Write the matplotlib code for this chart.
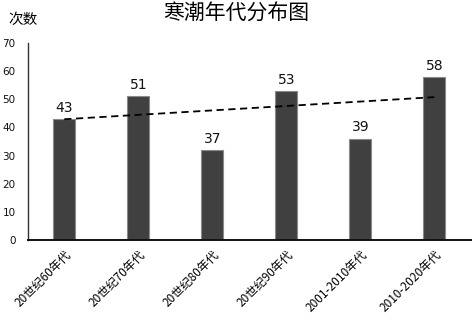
import numpy as np
import matplotlib.pyplot as plt

plt.rcParams['font.family'] = ['Noto Sans CJK SC', 'DejaVu Sans']

categories = ['20世纪60年代', '20世纪70年代', '20世纪80年代', '20世纪90年代', '2001-2010年代', '2010-2020年代']
bar_heights = [43, 51, 32, 53, 36, 58]
bar_labels = [43, 51, 37, 53, 39, 58]
yticks = [0, 10, 20, 30, 40, 50, 60, 70]

fig = plt.figure(figsize=(4.72, 3.26), dpi=100)
ax = fig.add_axes([28/472, 86/326, 1 - 28/472, 197/326])

x = np.arange(len(categories))
ax.bar(x, bar_heights, width=0.3, color='#404040', edgecolor='#8a8a8a', linewidth=0.8, zorder=2)
for xi, h, lab in zip(x, bar_heights, bar_labels):
    ax.text(xi, h + 1.5, str(lab), ha='center', va='bottom', fontsize=10, family='DejaVu Sans', color='#111111')

# linear trend line through the labelled values
k, b = np.polyfit(x, bar_labels, 1)
ax.plot([x[0], x[-1]], [k*x[0] + b, k*x[-1] + b], color='black', linestyle=(0, (4, 2.5)), linewidth=1.3, zorder=3)

ax.set_xlim(-0.49, 5.51)
ax.set_ylim(0, 70)
ax.set_yticks(yticks)
ax.set_yticklabels([str(t) for t in yticks], fontsize=7.5, family='DejaVu Sans', color='#111111')
ax.set_xticks(x)
ax.set_xticklabels(categories, rotation=45, ha='right', va='top', rotation_mode='anchor', fontsize=8.5)
ax.tick_params(axis='both', length=0)
ax.tick_params(axis='y', pad=9)
ax.tick_params(axis='x', pad=6)

for s in ['top', 'right']:
    ax.spines[s].set_visible(False)
ax.spines['left'].set_color('#333333')
ax.spines['left'].set_linewidth(1.0)
ax.spines['bottom'].set_color('#111111')
ax.spines['bottom'].set_linewidth(1.4)

fig.text(236/472, 1 - 13.5/326, '寒潮年代分布图', ha='center', va='center', fontsize=15)
fig.text(8/472, 1 - 20/326, '次数', ha='left', va='center', fontsize=10.5)

fig.savefig('out.png', dpi=100)
